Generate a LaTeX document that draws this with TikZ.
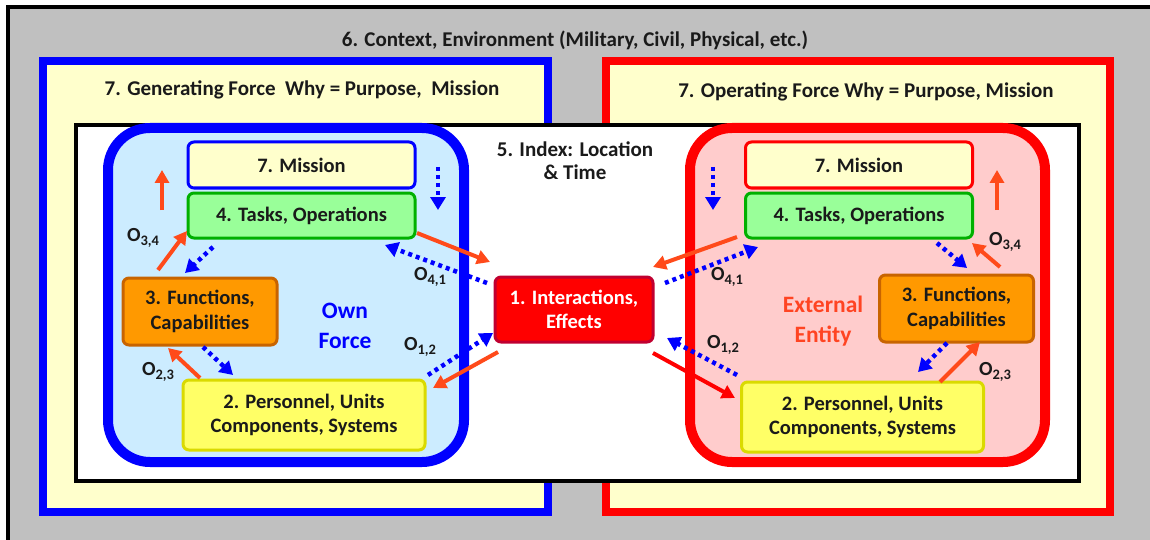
\documentclass[tikz,border=0pt]{standalone}
\usepackage{fontspec}
\setmainfont{Carlito}
\usepackage{tikz}
\usetikzlibrary{arrows.meta,positioning}
\definecolor{cfgray}{HTML}{C0C0C0}
\definecolor{cfcream}{HTML}{FFFFCC}
\definecolor{cfblue}{HTML}{0000FF}
\definecolor{cfred}{HTML}{FF0000}
\definecolor{cfsky}{HTML}{CCECFF}
\definecolor{cfpink}{HTML}{FFCCCC}
\definecolor{cfgreen}{HTML}{99FF99}
\definecolor{cfgreend}{HTML}{00B000}
\definecolor{cforange}{HTML}{FF9900}
\definecolor{cforanged}{HTML}{C86400}
\definecolor{cfyellow}{HTML}{FFFF66}
\definecolor{cfyellowd}{HTML}{DADA00}
\definecolor{cfixd}{HTML}{C00030}
\definecolor{cfarrow}{HTML}{FF4A1A}
\definecolor{cftext}{HTML}{1A1A1A}
\definecolor{cfext}{HTML}{FF4422}
\newcommand{\bxfont}{\fontsize{20.5}{24.5}\selectfont\bfseries}
\newcommand{\ttlfont}{\fontsize{21}{23}\selectfont\bfseries}
\newcommand{\lbfont}{\fontsize{20}{22}\selectfont\bfseries}
\newcommand{\olab}[1]{O\raisebox{-4pt}{\fontsize{14.5}{14.5}\selectfont#1}}
\tikzset{
  frame/.style={line width=8pt,fill=cfcream},
  force/.style={line width=10pt,rounded corners=42pt},
  base/.style={rounded corners=6pt,line width=3pt,align=center,font=\bxfont,
               text=cftext,inner sep=0pt},
  msn/.style={base,fill=cfcream,minimum width=227pt,minimum height=46pt},
  tsk/.style={base,draw=cfgreend,fill=cfgreen,minimum width=227pt,minimum height=45pt},
  fcn/.style={base,draw=cforanged,fill=cforange,minimum width=154pt,minimum height=67pt},
  prs/.style={base,draw=cfyellowd,fill=cfyellow,minimum width=242pt,minimum height=70pt},
  ixn/.style={base,draw=cfixd,fill=cfred,text=white,minimum width=158pt,minimum height=65pt},
  ttl/.style={font=\ttlfont,text=cftext,align=center,inner sep=0pt},
  who/.style={font=\fontsize{23.5}{29.5}\selectfont\bfseries,align=center,inner sep=0pt},
  lab/.style={font=\lbfont,text=cftext,inner sep=0pt},
  ar/.style={-{Triangle[length=13pt,width=14pt]},line width=4pt,cfarrow},
  arb/.style={-{Triangle[length=13pt,width=15pt]},line width=4.5pt,cfblue,
              dash pattern=on 4pt off 4pt},
}
\begin{document}
\begin{tikzpicture}[x=1pt,y=-1pt]
\useasboundingbox (0,0) rectangle (1150,540);
\fill[cfgray] (8,7) rectangle (1150,540);
\draw[line width=4pt] (8,540) -- (8,7) -- (1150,7);
\draw[frame,draw=cfblue] (43,61) rectangle (548,512);
\draw[frame,draw=cfred] (606,61) rectangle (1110,512);
\draw[line width=4pt,fill=white] (76,125) rectangle (1079,481);
\draw[force,draw=cfblue,fill=cfsky] (108,128) rectangle (464,462);
\draw[force,draw=cfred,fill=cfpink] (690,128) rectangle (1045,462);

\node[ttl] (ctx) at (575,40) {6. Context, Environment (Military, Civil, Physical, etc.)};
\node[ttl] (gen) at (302,90) {7. Generating Force\ \ Why = Purpose,\ \ Mission};
\node[ttl] (opr) at (866,92) {7. Operating Force Why = Purpose, Mission};
\node[ttl] (idx) at (575,161) {5. Index: Location\\\& Time};

\node[msn,draw=cfblue] (msL) at (301.5,165) {7. Mission};
\node[tsk,below=2pt of msL] (tkL) {4. Tasks, Operations};
\node[fcn] (fnL) at (200,311.5) {3. Functions,\\Capabilities};
\node[prs] (psL) at (304,415) {2. Personnel, Units\\Components, Systems};
\node[who,text=cfblue] (own) at (345,326) {Own\\Force};

\node[ixn] (ix) at (574,309.5) {1. Interactions,\\Effects};

\node[msn,draw=cfred] (msR) at (859,165) {7. Mission};
\node[tsk,below=2pt of msR] (tkR) {4. Tasks, Operations};
\node[fcn] (fnR) at (956.5,308.5) {3. Functions,\\Capabilities};
\node[prs] (psR) at (862.5,417) {2. Personnel, Units\\Components, Systems};
\node[who,text=cfext] (ext) at (823,321) {External\\Entity};

\coordinate (uL0) at (162,210); \coordinate (uL1) at (162,170);
\coordinate (dL0) at (438,167); \coordinate (dL1) at (438,210);
\coordinate (ftL0) at (158,270); \coordinate (ftL1) at (187,231);
\coordinate (tfL0) at (213,247); \coordinate (tfL1) at (185,273);
\coordinate (tiL0) at (417,233); \coordinate (tiL1) at (490,262);
\coordinate (itL0) at (487,283); \coordinate (itL1) at (385,245);
\coordinate (ipL0) at (498,352); \coordinate (ipL1) at (433,388);
\coordinate (piL0) at (428,375); \coordinate (piL1) at (493,333);
\coordinate (pfL0) at (200,378); \coordinate (pfL1) at (168,348);
\coordinate (fpL0) at (203,347); \coordinate (fpL1) at (233,375);

\coordinate (dR0) at (713,167); \coordinate (dR1) at (713,210);
\coordinate (uR0) at (997,210); \coordinate (uR1) at (997,170);
\coordinate (ftR0) at (1000,267); \coordinate (ftR1) at (972,243);
\coordinate (tfR0) at (937,243); \coordinate (tfR1) at (967,268);
\coordinate (tiR0) at (737,237); \coordinate (tiR1) at (653,267);
\coordinate (itR0) at (665,283); \coordinate (itR1) at (758,247);
\coordinate (ipR0) at (653,353); \coordinate (ipR1) at (735,398);
\coordinate (piR0) at (737,375); \coordinate (piR1) at (667,338);
\coordinate (pfR0) at (940,382); \coordinate (pfR1) at (980,342);
\coordinate (fpR0) at (947,343); \coordinate (fpR1) at (918,372);

\draw[ar](uL0)--(uL1);
\draw[arb](dL0)--(dL1);
\draw[ar](ftL0)--(ftL1);
\draw[arb](tfL0)--(tfL1);
\draw[ar](tiL0)--(tiL1);
\draw[arb](itL0)--(itL1);
\draw[ar](ipL0)--(ipL1);
\draw[arb](piL0)--(piL1);
\draw[ar](pfL0)--(pfL1);
\draw[arb](fpL0)--(fpL1);

\draw[arb](dR0)--(dR1);
\draw[ar](uR0)--(uR1);
\draw[ar](ftR0)--(ftR1);
\draw[arb](tfR0)--(tfR1);
\draw[ar](tiR0)--(tiR1);
\draw[arb](itR0)--(itR1);
\draw[ar,cfred](ipR0)--(ipR1);
\draw[arb](piR0)--(piR1);
\draw[ar](pfR0)--(pfR1);
\draw[arb](fpR0)--(fpR1);

\node[lab] (o34L) at (143,238) {\olab{3,4}};
\node[lab] (o41L) at (430,277) {\olab{4,1}};
\node[lab] (o12L) at (420,347) {\olab{1,2}};
\node[lab] (o23L) at (158,372) {\olab{2,3}};
\node[lab] (o34R) at (1005,242) {\olab{3,4}};
\node[lab] (o41R) at (727,277) {\olab{4,1}};
\node[lab] (o12R) at (723,345) {\olab{1,2}};
\node[lab] (o23R) at (995,372) {\olab{2,3}};
\end{tikzpicture}
\end{document}
